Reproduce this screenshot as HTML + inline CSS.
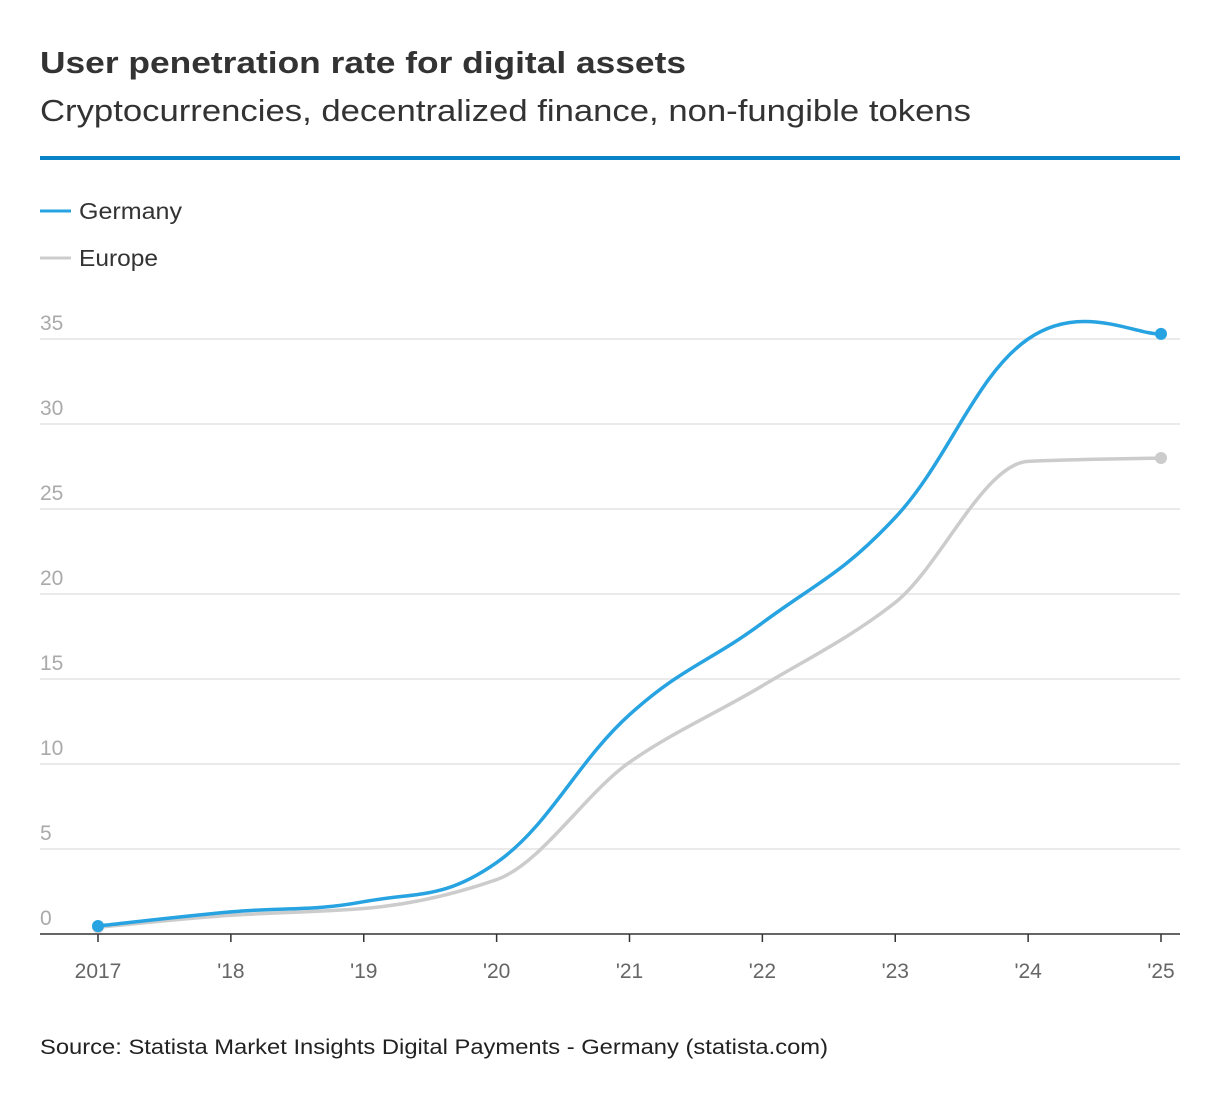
<!DOCTYPE html>
<html><head><meta charset="utf-8"><style>
body{margin:0;background:#fff;font-family:"Liberation Sans",sans-serif;}
svg text{font-family:"Liberation Sans",sans-serif;}
</style></head><body>
<svg width="1220" height="1104" viewBox="0 0 1220 1104">
<text x="40" y="73" font-size="31" font-weight="bold" fill="#333" textLength="646" lengthAdjust="spacingAndGlyphs">User penetration rate for digital assets</text>
<text x="40" y="121" font-size="31" fill="#333" textLength="931" lengthAdjust="spacingAndGlyphs">Cryptocurrencies, decentralized finance, non-fungible tokens</text>
<rect x="40" y="156" width="1140" height="4" fill="#0a82c8"/>
<g><line x1="40" y1="211" x2="71" y2="211" stroke="#26a3e0" stroke-width="3"/><text x="79" y="219" font-size="23" fill="#333" textLength="103" lengthAdjust="spacingAndGlyphs">Germany</text></g>
<g><line x1="40" y1="258" x2="71" y2="258" stroke="#cccccc" stroke-width="3"/><text x="79" y="266" font-size="23" fill="#333" textLength="79" lengthAdjust="spacingAndGlyphs">Europe</text></g>
<g id="grid"></g><g id="xaxis"></g><g id="series"></g>
<text x="40" y="1054" font-size="21" fill="#222" textLength="788" lengthAdjust="spacingAndGlyphs">Source: Statista Market Insights Digital Payments - Germany (statista.com)</text>
</svg>
<script>
const years=['2017',"'18","'19","'20","'21","'22","'23","'24","'25"];
const germany=[0.47,1.3,1.9,4.2,12.9,18.3,24.5,35.0,35.3];
const europe=[0.4,1.1,1.5,3.2,10.1,14.6,19.5,27.8,28.0];
const yTicks=[0,5,10,15,20,25,30,35];
const NS='http://www.w3.org/2000/svg';
const x=i=>98+i*(1161-98)/8;
const y=v=>934-v*17;
function mk(t,a,p){const e=document.createElementNS(NS,t);for(const k in a)e.setAttribute(k,a[k]);p.appendChild(e);return e;}
const grid=document.getElementById('grid');
yTicks.forEach(v=>{
 if(v>0){const l=mk('line',{x1:40,x2:1180,y1:y(v),y2:y(v),stroke:'#e3e3e3','stroke-width':1.5},grid);
 
 }
 const t=mk('text',{x:40,y:y(v)-9,'font-size':21,fill:'#aaa'},grid);t.textContent=v;
 
 
});
const xa=document.getElementById('xaxis');
const ax=mk('line',{x1:40,x2:1180,y1:934,y2:934,stroke:'#333','stroke-width':1.5},xa);


years.forEach((s,i)=>{
 mk('line',{x1:x(i),x2:x(i),y1:934,y2:942,stroke:'#333','stroke-width':1.5},xa);
 const t=mk('text',{x:x(i),y:978,'font-size':21,fill:'#666','text-anchor':'middle'},xa);t.textContent=s;
 
 
});
function pathCR(vals,k){
 const p=vals.map((v,i)=>[x(i),y(v)]);let d='M'+p[0][0]+','+p[0][1];
 for(let i=0;i<p.length-1;i++){
  const p0=p[Math.max(0,i-1)],p1=p[i],p2=p[i+1],p3=p[Math.min(p.length-1,i+2)];
  const c1=[p1[0]+(p2[0]-p0[0])*k,p1[1]+(p2[1]-p0[1])*k],c2=[p2[0]-(p3[0]-p1[0])*k,p2[1]-(p3[1]-p1[1])*k];
  d+=`C${c1[0]},${c1[1]} ${c2[0]},${c2[1]} ${p2[0]},${p2[1]}`;
 }return d;}
function pathMono(vals){
 const p=vals.map((v,i)=>[x(i),y(v)]);const n=p.length;const s=[],m=[];
 for(let i=0;i<n-1;i++)s.push((p[i+1][1]-p[i][1])/(p[i+1][0]-p[i][0]));
 m[0]=s[0];m[n-1]=s[n-2];
 for(let i=1;i<n-1;i++){m[i]=(s[i-1]*s[i]<=0)?0:2/(1/s[i-1]+1/s[i]);}
 let d='M'+p[0][0]+','+p[0][1];
 for(let i=0;i<n-1;i++){const h=(p[i+1][0]-p[i][0])/3;
  d+=`C${p[i][0]+h},${p[i][1]+m[i]*h} ${p[i+1][0]-h},${p[i+1][1]-m[i+1]*h} ${p[i+1][0]},${p[i+1][1]}`;}
 return d;}
const sg=document.getElementById('series');
[[europe,'#cccccc','europe',pathMono(europe)],[germany,'#26a3e0','germany',pathCR(germany,0.2)]].forEach(([v,c,n,d])=>{
 const l=mk('path',{d:d,fill:'none',stroke:c,'stroke-width':3.5},sg);
 
 
 [0,v.length-1].forEach(i=>{const dt=mk('circle',{cx:x(i),cy:y(v[i]),r:6,fill:c},sg);
 
 });
});
</script>
</body></html>
